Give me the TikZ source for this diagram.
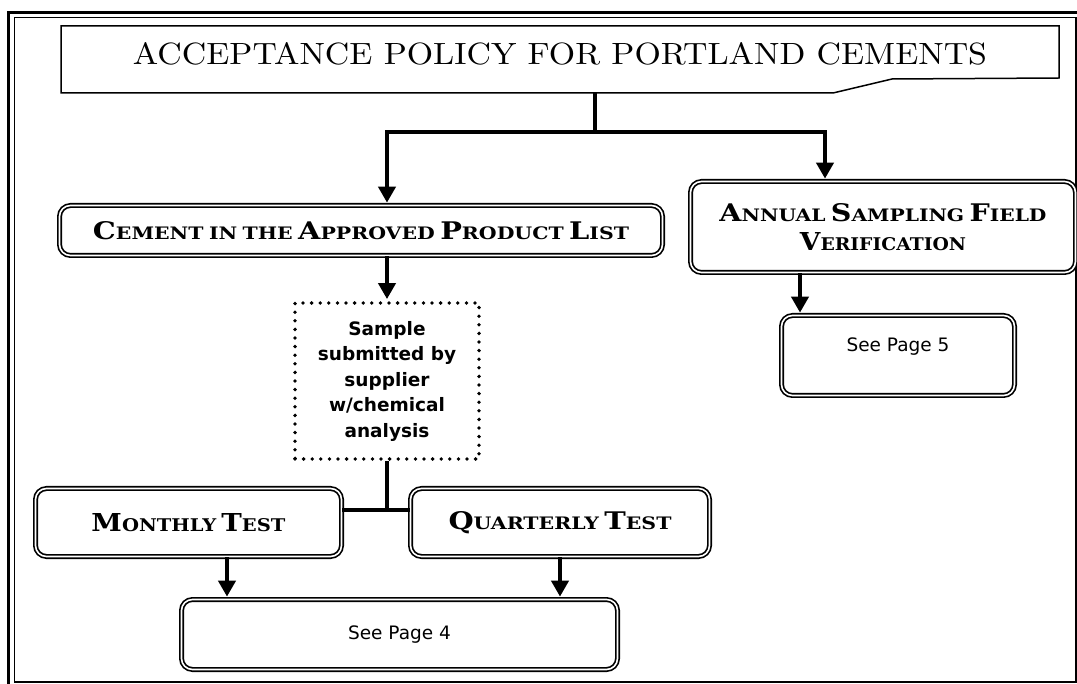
\documentclass[tikz,border=0pt]{standalone}
\usepackage{fontspec}
\usepackage{graphicx}
\usetikzlibrary{arrows.meta,calc}
\newfontfamily\cpfont{DejaVu Serif}
\newfontfamily\tahoma{DejaVu Sans}
\newcommand\SCw[2]{{\fontsize{24}{24}\selectfont #1}{\fontsize{17}{17}\selectfont #2}}
\newcommand\wsp{\hspace{0.45em}}
\tikzset{
  dbox/.style={draw, line width=1.7pt, double=white, double distance=1.6pt, rounded corners=11pt, inner sep=0pt},
  dotbox/.style={draw, line width=3.8pt, line cap=round, dash pattern=on 0pt off 8.6pt, inner sep=0pt, align=center},
  arr/.style={line width=4.5pt, shorten >=2pt, -{Triangle[width=17pt,length=16pt]}},
  conn/.style={line width=4.5pt},
  titleline/.style={line width=1.5pt, line join=miter},
  sanstext/.style={font=\tahoma\fontsize{18.5}{22}\selectfont, inner sep=0pt}
}
\begin{document}
\begin{tikzpicture}[x=1pt,y=-1pt]
\useasboundingbox (0,0) rectangle (1077,684);
\fill[white] (0,0) rectangle (1077,684);
% frame
\draw[line width=2.8pt] (8.5,690) -- (8.5,12.5) -- (1085,12.5);
\draw[line width=1.4pt] (14.3,682) -- (14.3,17.5) -- (1076,17.5) -- (1076,682) -- cycle;
% title
\draw[titleline] (61,26) -- (1059,26) -- (1059,78) -- (892,79) -- (833,93) -- (61,93) -- cycle;
\node[inner sep=0pt] (title) at (560,54) {\resizebox{854pt}{22pt}{ACCEPTANCE POLICY FOR PORTLAND CEMENTS}};
\coordinate (tb) at (595,93);
\coordinate (bar) at (595,132);
% boxes
\node[dbox, minimum width=603pt, minimum height=50pt] (cement) at (361,230.5)
  {\resizebox{536pt}{18pt}{\cpfont\bfseries\SCw{C}{EMENT}\wsp\SCw{}{IN}\wsp\SCw{}{THE}\wsp\SCw{A}{PPROVED}\wsp\SCw{P}{RODUCT}\wsp\SCw{L}{IST}}};
\node[dbox, minimum width=385pt, minimum height=91pt, align=center] (annual) at (883,227)
  {\resizebox{327pt}{18pt}{\cpfont\bfseries\SCw{A}{NNUAL}\wsp\SCw{S}{AMPLING}\wsp\SCw{F}{IELD}}\\[9pt]
   \resizebox{166pt}{18pt}{\cpfont\bfseries\SCw{V}{ERIFICATION}}};
\node[dbox, minimum width=233pt, minimum height=80pt] (p5) at (898,355.5) {};
\node[sanstext] (p5t) at (898,347) {See Page 5};
\node[dotbox, minimum width=184pt, minimum height=156pt, font=\tahoma\bfseries\fontsize{18.5}{25.5}\selectfont] (dot) at (387,381)
  {Sample\\submitted by\\supplier\\w/chemical\\analysis};
\node[dbox, minimum width=306pt, minimum height=68pt] (monthly) at (188.5,522.5)
  {\resizebox{194pt}{18pt}{\cpfont\bfseries\SCw{M}{ONTHLY}\wsp\SCw{T}{EST}}};
\node[dbox, minimum width=299pt, minimum height=68pt] (quarterly) at (560,522.5)
  {\resizebox{223pt}{18pt}{\cpfont\bfseries\SCw{Q}{UARTERLY}\wsp\SCw{T}{EST}}};
\node[dbox, minimum width=436pt, minimum height=70pt, font=\tahoma\fontsize{18.5}{22}\selectfont] (p4) at (399.5,634.5) {See Page 4};
% connectors
\draw[conn] (tb) -- (bar);
\draw[arr] (bar) -| ([xshift=26pt]cement.north);
\draw[arr] (bar) -| ([xshift=-58pt]annual.north);
\draw[arr] (dot.north |- cement.south) -- (dot.north);
\draw[arr] ([xshift=-83pt]annual.south) -- ([xshift=-98pt]p5.north);
\coordinate (jn) at ([yshift=12.5pt]monthly.east);
\draw[conn] (jn) -- ([yshift=12.5pt]quarterly.west);
\draw[conn] (dot.south) -- (dot.south |- jn);
\draw[arr] ([xshift=38.5pt]monthly.south) -- ([xshift=38.5pt]monthly.south |- p4.north);
\draw[arr] (quarterly.south) -- (quarterly.south |- p4.north);
\end{tikzpicture}
\end{document}
